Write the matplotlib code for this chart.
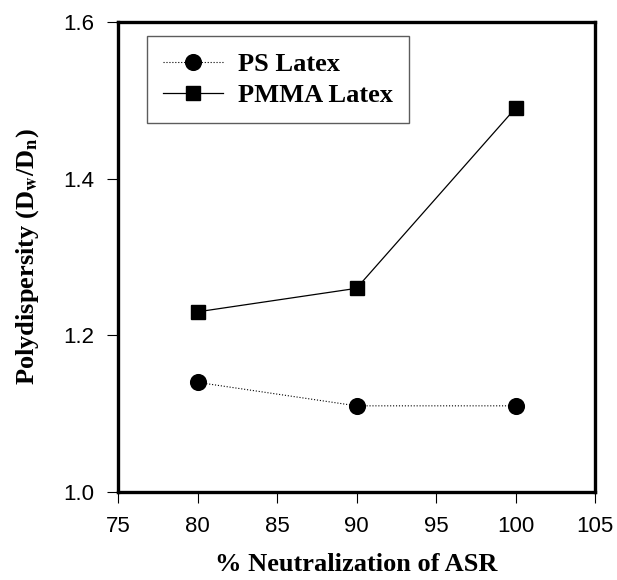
import matplotlib
matplotlib.use('Agg')
import matplotlib.pyplot as plt

plt.rcParams['mathtext.fontset'] = 'stix'

neutralization = [80, 90, 100]
ps_latex = [1.14, 1.11, 1.11]
pmma_latex = [1.23, 1.26, 1.49]

xticks = [75, 80, 85, 90, 95, 100, 105]
yticks = [1.0, 1.2, 1.4, 1.6]

W, H = 617, 580
fig = plt.figure(figsize=(W / 100, H / 100), dpi=100)
# frame: left 118px, bottom 492px, 477 x 470
ax = fig.add_axes([118 / W, (H - 492) / H, 477 / W, 470 / H])

ax.plot(neutralization, ps_latex, color='black', linestyle=':', linewidth=0.8,
        marker='o', markersize=11.3, label='PS Latex')
ax.plot(neutralization, pmma_latex, color='black', linestyle='-', linewidth=0.9,
        marker='s', markersize=9.9, label='PMMA Latex')

ax.set_xlim(75, 105)
ax.set_ylim(1.0, 1.6)
ax.set_xticks(xticks)
ax.set_yticks(yticks)
ax.set_yticklabels(['1.0', '1.2', '1.4', '1.6'])

for s in ax.spines.values():
    s.set_linewidth(2.4)
ax.tick_params(direction='out', length=8, width=0.8, labelsize=16)
ax.tick_params(axis='x', pad=9)
ax.tick_params(axis='y', pad=9)
for lab in ax.get_xticklabels() + ax.get_yticklabels():
    lab.set_fontfamily('Liberation Sans')

ax.set_xlabel('% Neutralization of ASR', fontsize=19, fontweight='bold',
              fontfamily='Liberation Serif', va='baseline')
ax.xaxis.set_label_coords(0.5, (9 - 88) / 470)
ax.set_ylabel(r'Polydispersity (D$_{\mathbf{w}}$/D$_{\mathbf{n}}$)', fontsize=19,
              fontweight='bold', fontfamily='Liberation Serif', va='center')
ax.yaxis.set_label_coords((28 - 118) / 477, 0.5)

leg = ax.legend(loc='upper left', bbox_to_anchor=(0.061, 0.970), frameon=True,
                fancybox=False, edgecolor='#333333', handlelength=2.24,
                handletextpad=0.57,
                prop={'family': 'Liberation Serif', 'weight': 'bold', 'size': 19},
                borderpad=0.62, labelspacing=0.28, borderaxespad=0)
leg.get_frame().set_linewidth(1.0)

fig.savefig('out.png', dpi=100)
